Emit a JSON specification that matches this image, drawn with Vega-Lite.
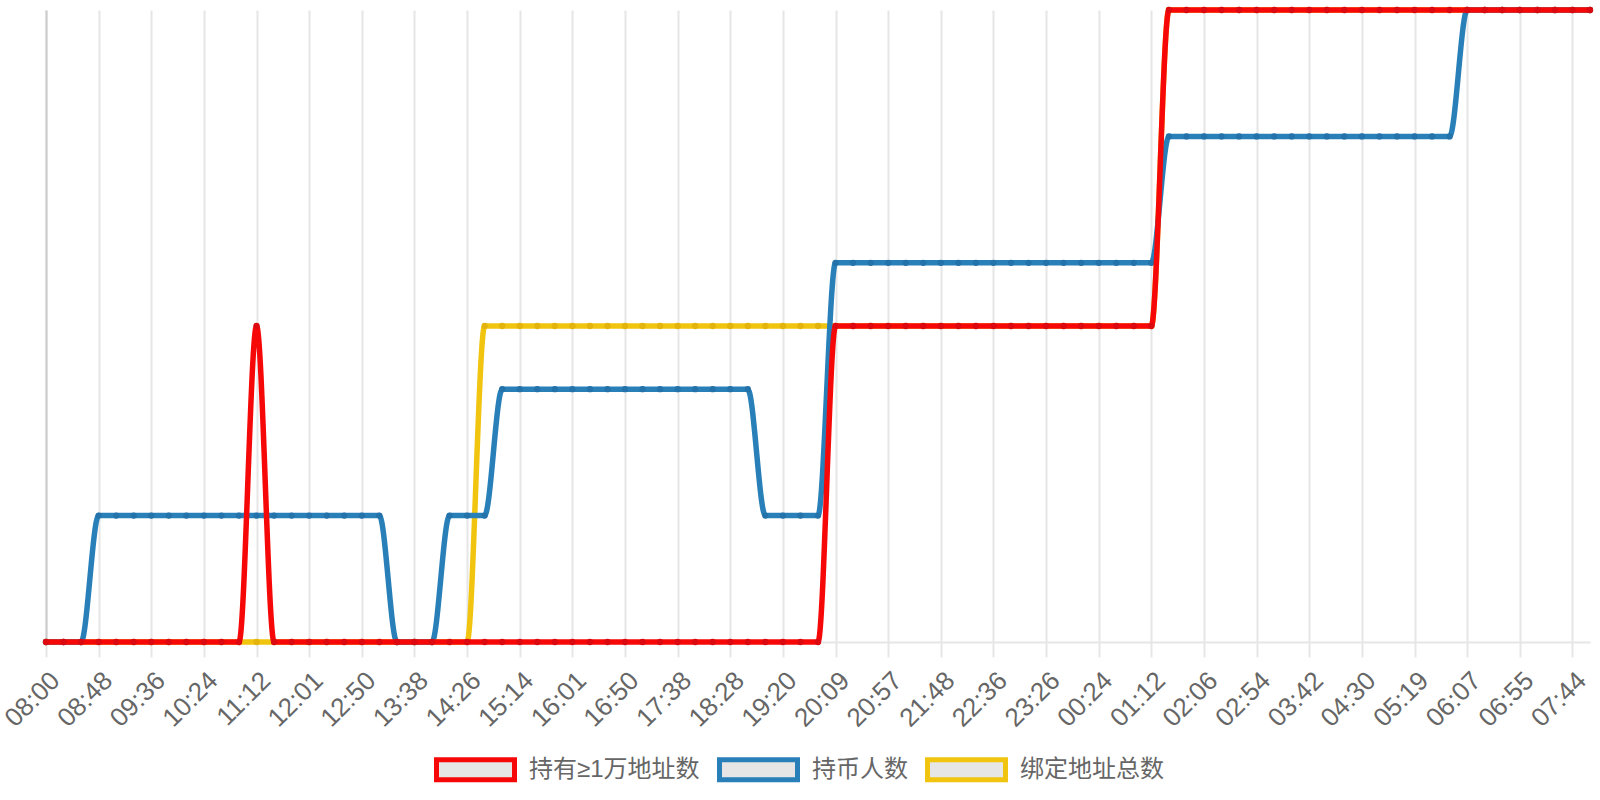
{
  "$schema": "https://vega.github.io/schema/vega-lite/v6.json",
  "width": 1544,
  "height": 632,
  "autosize": {"type": "none"},
  "padding": {"left": 46, "top": 10, "right": 10, "bottom": 158},
  "background": "white",
  "data": {
    "values": [
      {"t": "08:00", "持有≥1万地址数": 0, "持币人数": 0, "绑定地址总数": 0},
      {"t": "08:16", "持有≥1万地址数": 0, "持币人数": 0, "绑定地址总数": 0},
      {"t": "08:32", "持有≥1万地址数": 0, "持币人数": 0, "绑定地址总数": 0},
      {"t": "08:48", "持有≥1万地址数": 0, "持币人数": 2, "绑定地址总数": 0},
      {"t": "09:04", "持有≥1万地址数": 0, "持币人数": 2, "绑定地址总数": 0},
      {"t": "09:20", "持有≥1万地址数": 0, "持币人数": 2, "绑定地址总数": 0},
      {"t": "09:36", "持有≥1万地址数": 0, "持币人数": 2, "绑定地址总数": 0},
      {"t": "09:52", "持有≥1万地址数": 0, "持币人数": 2, "绑定地址总数": 0},
      {"t": "10:08", "持有≥1万地址数": 0, "持币人数": 2, "绑定地址总数": 0},
      {"t": "10:24", "持有≥1万地址数": 0, "持币人数": 2, "绑定地址总数": 0},
      {"t": "10:40", "持有≥1万地址数": 0, "持币人数": 2, "绑定地址总数": 0},
      {"t": "10:56", "持有≥1万地址数": 0, "持币人数": 2, "绑定地址总数": 0},
      {"t": "11:12", "持有≥1万地址数": 5, "持币人数": 2, "绑定地址总数": 0},
      {"t": "11:28", "持有≥1万地址数": 0, "持币人数": 2, "绑定地址总数": 0},
      {"t": "11:45", "持有≥1万地址数": 0, "持币人数": 2, "绑定地址总数": 0},
      {"t": "12:01", "持有≥1万地址数": 0, "持币人数": 2, "绑定地址总数": 0},
      {"t": "12:17", "持有≥1万地址数": 0, "持币人数": 2, "绑定地址总数": 0},
      {"t": "12:34", "持有≥1万地址数": 0, "持币人数": 2, "绑定地址总数": 0},
      {"t": "12:50", "持有≥1万地址数": 0, "持币人数": 2, "绑定地址总数": 0},
      {"t": "13:06", "持有≥1万地址数": 0, "持币人数": 2, "绑定地址总数": 0},
      {"t": "13:22", "持有≥1万地址数": 0, "持币人数": 0, "绑定地址总数": 0},
      {"t": "13:38", "持有≥1万地址数": 0, "持币人数": 0, "绑定地址总数": 0},
      {"t": "13:54", "持有≥1万地址数": 0, "持币人数": 0, "绑定地址总数": 0},
      {"t": "14:10", "持有≥1万地址数": 0, "持币人数": 2, "绑定地址总数": 0},
      {"t": "14:26", "持有≥1万地址数": 0, "持币人数": 2, "绑定地址总数": 0},
      {"t": "14:42", "持有≥1万地址数": 0, "持币人数": 2, "绑定地址总数": 5},
      {"t": "14:58", "持有≥1万地址数": 0, "持币人数": 4, "绑定地址总数": 5},
      {"t": "15:14", "持有≥1万地址数": 0, "持币人数": 4, "绑定地址总数": 5},
      {"t": "15:30", "持有≥1万地址数": 0, "持币人数": 4, "绑定地址总数": 5},
      {"t": "15:45", "持有≥1万地址数": 0, "持币人数": 4, "绑定地址总数": 5},
      {"t": "16:01", "持有≥1万地址数": 0, "持币人数": 4, "绑定地址总数": 5},
      {"t": "16:17", "持有≥1万地址数": 0, "持币人数": 4, "绑定地址总数": 5},
      {"t": "16:34", "持有≥1万地址数": 0, "持币人数": 4, "绑定地址总数": 5},
      {"t": "16:50", "持有≥1万地址数": 0, "持币人数": 4, "绑定地址总数": 5},
      {"t": "17:06", "持有≥1万地址数": 0, "持币人数": 4, "绑定地址总数": 5},
      {"t": "17:22", "持有≥1万地址数": 0, "持币人数": 4, "绑定地址总数": 5},
      {"t": "17:38", "持有≥1万地址数": 0, "持币人数": 4, "绑定地址总数": 5},
      {"t": "17:55", "持有≥1万地址数": 0, "持币人数": 4, "绑定地址总数": 5},
      {"t": "18:11", "持有≥1万地址数": 0, "持币人数": 4, "绑定地址总数": 5},
      {"t": "18:28", "持有≥1万地址数": 0, "持币人数": 4, "绑定地址总数": 5},
      {"t": "18:45", "持有≥1万地址数": 0, "持币人数": 4, "绑定地址总数": 5},
      {"t": "19:03", "持有≥1万地址数": 0, "持币人数": 2, "绑定地址总数": 5},
      {"t": "19:20", "持有≥1万地址数": 0, "持币人数": 2, "绑定地址总数": 5},
      {"t": "19:36", "持有≥1万地址数": 0, "持币人数": 2, "绑定地址总数": 5},
      {"t": "19:52", "持有≥1万地址数": 0, "持币人数": 2, "绑定地址总数": 5},
      {"t": "20:09", "持有≥1万地址数": 5, "持币人数": 6, "绑定地址总数": 5},
      {"t": "20:25", "持有≥1万地址数": 5, "持币人数": 6, "绑定地址总数": 5},
      {"t": "20:41", "持有≥1万地址数": 5, "持币人数": 6, "绑定地址总数": 5},
      {"t": "20:57", "持有≥1万地址数": 5, "持币人数": 6, "绑定地址总数": 5},
      {"t": "21:14", "持有≥1万地址数": 5, "持币人数": 6, "绑定地址总数": 5},
      {"t": "21:31", "持有≥1万地址数": 5, "持币人数": 6, "绑定地址总数": 5},
      {"t": "21:48", "持有≥1万地址数": 5, "持币人数": 6, "绑定地址总数": 5},
      {"t": "22:04", "持有≥1万地址数": 5, "持币人数": 6, "绑定地址总数": 5},
      {"t": "22:20", "持有≥1万地址数": 5, "持币人数": 6, "绑定地址总数": 5},
      {"t": "22:36", "持有≥1万地址数": 5, "持币人数": 6, "绑定地址总数": 5},
      {"t": "22:53", "持有≥1万地址数": 5, "持币人数": 6, "绑定地址总数": 5},
      {"t": "23:09", "持有≥1万地址数": 5, "持币人数": 6, "绑定地址总数": 5},
      {"t": "23:26", "持有≥1万地址数": 5, "持币人数": 6, "绑定地址总数": 5},
      {"t": "23:45", "持有≥1万地址数": 5, "持币人数": 6, "绑定地址总数": 5},
      {"t": "00:04", "持有≥1万地址数": 5, "持币人数": 6, "绑定地址总数": 5},
      {"t": "00:24", "持有≥1万地址数": 5, "持币人数": 6, "绑定地址总数": 5},
      {"t": "00:40", "持有≥1万地址数": 5, "持币人数": 6, "绑定地址总数": 5},
      {"t": "00:56", "持有≥1万地址数": 5, "持币人数": 6, "绑定地址总数": 5},
      {"t": "01:12", "持有≥1万地址数": 5, "持币人数": 6, "绑定地址总数": 5},
      {"t": "01:30", "持有≥1万地址数": 10, "持币人数": 8, "绑定地址总数": 10},
      {"t": "01:48", "持有≥1万地址数": 10, "持币人数": 8, "绑定地址总数": 10},
      {"t": "02:06", "持有≥1万地址数": 10, "持币人数": 8, "绑定地址总数": 10},
      {"t": "02:22", "持有≥1万地址数": 10, "持币人数": 8, "绑定地址总数": 10},
      {"t": "02:38", "持有≥1万地址数": 10, "持币人数": 8, "绑定地址总数": 10},
      {"t": "02:54", "持有≥1万地址数": 10, "持币人数": 8, "绑定地址总数": 10},
      {"t": "03:10", "持有≥1万地址数": 10, "持币人数": 8, "绑定地址总数": 10},
      {"t": "03:26", "持有≥1万地址数": 10, "持币人数": 8, "绑定地址总数": 10},
      {"t": "03:42", "持有≥1万地址数": 10, "持币人数": 8, "绑定地址总数": 10},
      {"t": "03:58", "持有≥1万地址数": 10, "持币人数": 8, "绑定地址总数": 10},
      {"t": "04:14", "持有≥1万地址数": 10, "持币人数": 8, "绑定地址总数": 10},
      {"t": "04:30", "持有≥1万地址数": 10, "持币人数": 8, "绑定地址总数": 10},
      {"t": "04:46", "持有≥1万地址数": 10, "持币人数": 8, "绑定地址总数": 10},
      {"t": "05:03", "持有≥1万地址数": 10, "持币人数": 8, "绑定地址总数": 10},
      {"t": "05:19", "持有≥1万地址数": 10, "持币人数": 8, "绑定地址总数": 10},
      {"t": "05:35", "持有≥1万地址数": 10, "持币人数": 8, "绑定地址总数": 10},
      {"t": "05:51", "持有≥1万地址数": 10, "持币人数": 8, "绑定地址总数": 10},
      {"t": "06:07", "持有≥1万地址数": 10, "持币人数": 10, "绑定地址总数": 10},
      {"t": "06:23", "持有≥1万地址数": 10, "持币人数": 10, "绑定地址总数": 10},
      {"t": "06:39", "持有≥1万地址数": 10, "持币人数": 10, "绑定地址总数": 10},
      {"t": "06:55", "持有≥1万地址数": 10, "持币人数": 10, "绑定地址总数": 10},
      {"t": "07:11", "持有≥1万地址数": 10, "持币人数": 10, "绑定地址总数": 10},
      {"t": "07:28", "持有≥1万地址数": 10, "持币人数": 10, "绑定地址总数": 10},
      {"t": "07:44", "持有≥1万地址数": 10, "持币人数": 10, "绑定地址总数": 10},
      {"t": "07:59", "持有≥1万地址数": 10, "持币人数": 10, "绑定地址总数": 10}
    ]
  },
  "transform": [
    {"fold": ["持有≥1万地址数", "持币人数", "绑定地址总数"], "as": ["series", "value"]}
  ],
  "encoding": {
    "x": {
      "field": "t",
      "type": "ordinal",
      "sort": null,
      "scale": {"type": "point", "padding": 0},
      "axis": {
        "title": null,
        "values": ["08:00", "08:48", "09:36", "10:24", "11:12", "12:01", "12:50", "13:38", "14:26", "15:14", "16:01", "16:50", "17:38", "18:28", "19:20", "20:09", "20:57", "21:48", "22:36", "23:26", "00:24", "01:12", "02:06", "02:54", "03:42", "04:30", "05:19", "06:07", "06:55", "07:44"],
        "labelAngle": -45,
        "labelAlign": "right",
        "labelBaseline": "top",
        "labelPadding": 10,
        "labelFont": "Liberation Sans",
        "labelFontSize": 26,
        "labelColor": "#666666",
        "labelOverlap": false,
        "labelFlush": false,
        "tickSize": 15,
        "tickColor": "#e6e6e6",
        "tickWidth": 2,
        "grid": true,
        "gridColor": "#e6e6e6",
        "gridWidth": 2,
        "domainColor": "#e6e6e6",
        "domainWidth": 2
      }
    },
    "y": {
      "field": "value",
      "type": "quantitative",
      "scale": {"domain": [0, 10], "nice": false},
      "axis": {
        "title": null,
        "labels": false,
        "ticks": false,
        "grid": false,
        "domainColor": "#cccccc",
        "domainWidth": 2
      }
    }
  },
  "layer": [
    {
      "transform": [{"filter": "datum.series === '绑定地址总数'"}],
      "mark": {"type": "line", "interpolate": "monotone", "strokeWidth": 5.5, "strokeCap": "round"},
      "encoding": {
        "color": {
          "field": "series",
          "type": "nominal",
          "scale": {
            "domain": ["持有≥1万地址数", "持币人数", "绑定地址总数"],
            "range": ["#f60808", "#2980b9", "#f1c40f"]
          },
          "legend": {
            "title": null,
            "orient": "none",
            "direction": "horizontal",
            "legendX": 388,
            "legendY": 718,
            "padding": 0,
            "symbolType": "M-1,-0.256H1V0.256H-1Z",
            "symbolSize": 6084,
            "symbolStrokeWidth": 5,
            "labelFont": "Liberation Sans, Noto Sans CJK SC",
            "labelFontSize": 24,
            "labelColor": "#666666",
            "labelLimit": 400,
            "labelOffset": 12,
            "columnPadding": 9,
            "encode": {
              "symbols": {"update": {"fill": {"value": "#e6e6e6"}, "strokeWidth": {"value": 5}, "opacity": {"value": 1}}}
            }
          }
        }
      }
    },
    {
      "transform": [{"filter": "datum.series === '绑定地址总数'"}],
      "mark": {"type": "point", "filled": true, "size": 40, "color": "#e2b40c", "opacity": 1}
    },
    {
      "transform": [{"filter": "datum.series === '持币人数'"}],
      "mark": {"type": "line", "interpolate": "monotone", "strokeWidth": 5.5, "strokeCap": "round"},
      "encoding": {"color": {"field": "series", "type": "nominal"}}
    },
    {
      "transform": [{"filter": "datum.series === '持币人数'"}],
      "mark": {"type": "point", "filled": true, "size": 40, "color": "#2472aa", "opacity": 1}
    },
    {
      "transform": [{"filter": "datum.series === '持有≥1万地址数'"}],
      "mark": {"type": "line", "interpolate": "monotone", "strokeWidth": 5.5, "strokeCap": "round"},
      "encoding": {"color": {"field": "series", "type": "nominal"}}
    },
    {
      "transform": [{"filter": "datum.series === '持有≥1万地址数'"}],
      "mark": {"type": "point", "filled": true, "size": 40, "color": "#dc0a10", "opacity": 1}
    }
  ],
  "config": {
    "view": {"stroke": null}
  }
}
